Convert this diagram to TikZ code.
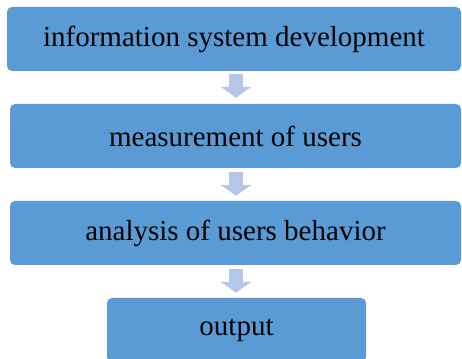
\documentclass[tikz,border=0pt]{standalone}
\usepackage{fontspec}
\newfontfamily\timesx{Liberation Serif}
\usetikzlibrary{arrows.meta,calc}
\definecolor{boxblue}{HTML}{5B9BD5}
\definecolor{arrowblue}{HTML}{B4C7E7}
\begin{document}
\begin{tikzpicture}[x=1pt,y=1pt,
  stepbox/.style={fill=boxblue,draw=none,rounded corners=5pt,inner sep=0pt,
    font=\timesx\fontsize{29}{34}\selectfont,text=black},
  barrow/.style={draw=arrowblue,line width=14pt,
    -{Triangle[width=30pt,length=11pt]}}]
\useasboundingbox (0,0) rectangle (462,358);
\clip (0,0) rectangle (462,358);
\fill[white] (0,0) rectangle (462,358);
\node[stepbox,minimum width=454pt,minimum height=64pt] (b1) at (234,319) {information system development};
\node[stepbox,minimum width=451pt,minimum height=64pt] (b2) at (235.5,222) {measurement of users};
\node[stepbox,minimum width=451pt,minimum height=64pt] (b3) at (235.5,125) {analysis of users behavior};
\node[stepbox,minimum width=259pt,minimum height=64pt] (b4) at (236.5,28) {output};
\coordinate (ax) at (236,0);
\draw[barrow] ($(b1.south -| ax)+(0,-3)$) -- ($(b2.north -| ax)+(0,6)$);
\draw[barrow] ($(b2.south -| ax)+(0,-4)$) -- ($(b3.north -| ax)+(0,5)$);
\draw[barrow] ($(b3.south -| ax)+(0,-4)$) -- ($(b4.north -| ax)+(0,5)$);
\end{tikzpicture}
\end{document}
